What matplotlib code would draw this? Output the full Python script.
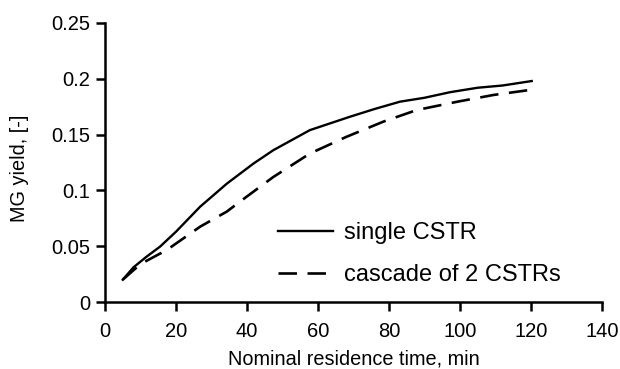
import matplotlib
matplotlib.use("Agg")
import matplotlib.pyplot as plt

plt.rcParams['font.family'] = ['Liberation Sans', 'DejaVu Sans']

t_single = [5, 8, 11.7, 15.5, 20, 26.8, 34.3, 41.8, 47.4, 57.7, 69, 76, 83.1, 90, 97.2, 105, 112, 120.2]
y_single = [0.02, 0.031, 0.0406, 0.0496, 0.063, 0.0854, 0.106, 0.124, 0.136, 0.154, 0.166, 0.173, 0.1795, 0.183, 0.188, 0.192, 0.194, 0.198]

t_cascade = [5, 10, 17.4, 26.8, 34.3, 38, 47.4, 57.7, 68, 78.4, 87.8, 99.3, 109.4, 119.7]
y_cascade = [0.02, 0.034, 0.0466, 0.0675, 0.081, 0.0899, 0.112, 0.133, 0.148, 0.1616, 0.172, 0.1795, 0.1855, 0.19]

fig = plt.figure(figsize=(6.2, 3.69), dpi=100)
ax = fig.add_axes([105/620, 1-302/369, (602-105)/620, (302-23)/369])

ax.plot(t_single, y_single, color='black', lw=1.7, label='single CSTR')
ax.plot(t_cascade, y_cascade, color='black', lw=1.9, dashes=(7, 4), label='cascade of 2 CSTRs')

ax.set_xlim(0, 140)
ax.set_ylim(0, 0.25)
ax.set_xticks([0, 20, 40, 60, 80, 100, 120, 140])
ax.set_yticks([0, 0.05, 0.1, 0.15, 0.2, 0.25])
ax.set_yticklabels(['0', '0.05', '0.1', '0.15', '0.2', '0.25'])
ax.spines['top'].set_visible(False)
ax.spines['right'].set_visible(False)
for s in ['left', 'bottom']:
    ax.spines[s].set_linewidth(1.8)
ax.tick_params(direction='out', length=6.5, width=1.8, labelsize=14.5)
ax.tick_params(axis='x', pad=8)
ax.tick_params(axis='y', pad=4)
ax.set_xlabel('Nominal residence time, min', fontsize=14.3, labelpad=6)
ax.set_ylabel('MG yield, [-]', fontsize=14.3)
ax.yaxis.set_label_coords(-0.152, 0.48)

leg = ax.legend(loc='center left', bbox_to_anchor=(278/620, 1-254/369),
                bbox_transform=fig.transFigure, frameon=False, fontsize=17,
                handlelength=2.35, labelspacing=0.85, handletextpad=0.45,
                borderpad=0, borderaxespad=0)

fig.savefig('out.png', dpi=100)
